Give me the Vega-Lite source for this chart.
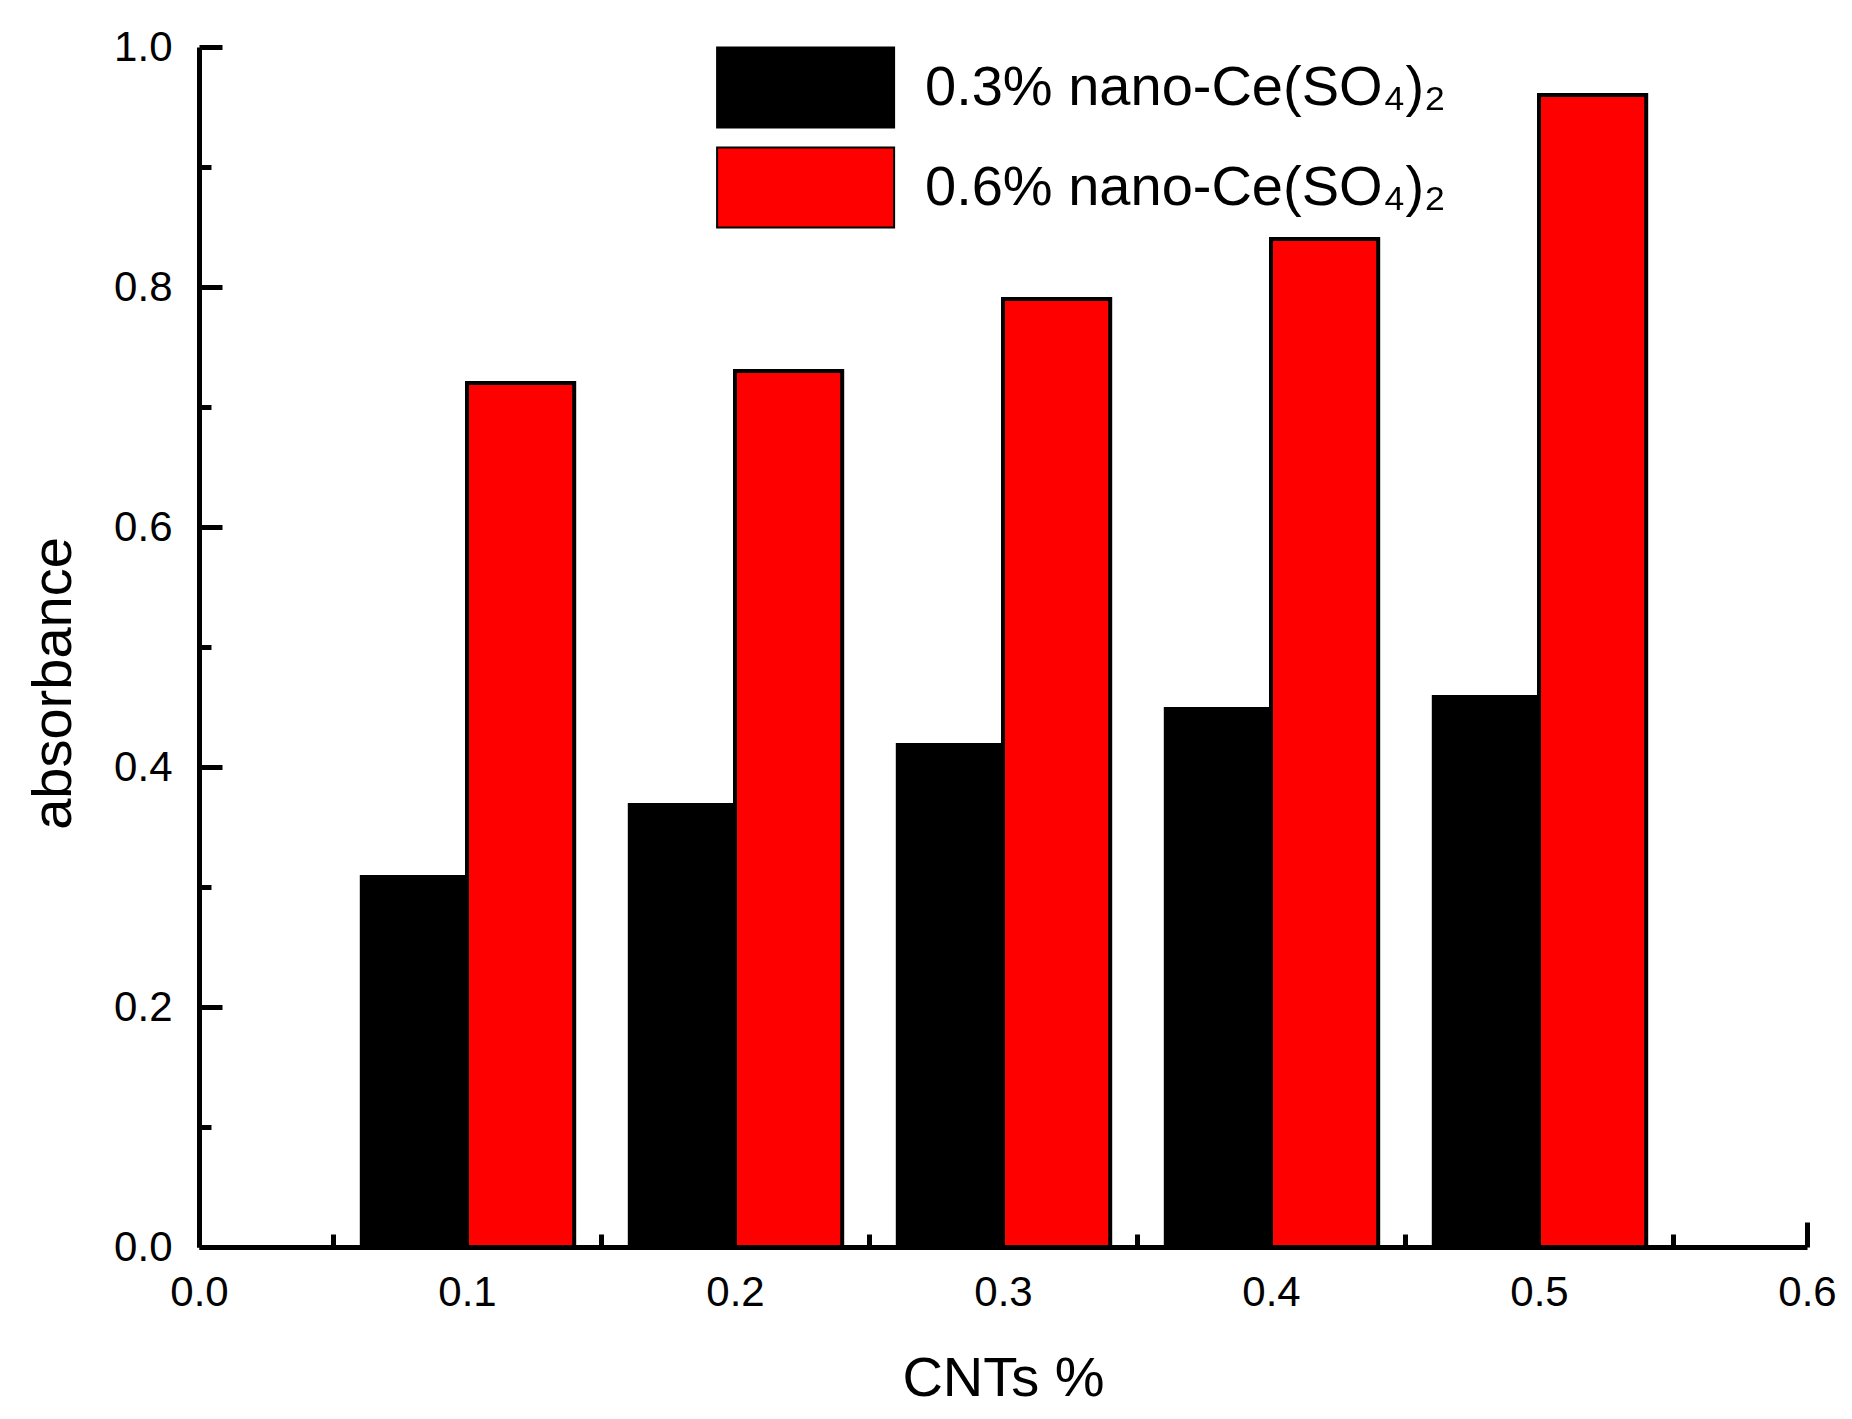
{
  "$schema": "https://vega.github.io/schema/vega-lite/v6.json",
  "width": 1608,
  "height": 1200,
  "autosize": {"type": "none"},
  "padding": {"left": 199, "top": 47, "right": 45, "bottom": 172},
  "background": "white",
  "data": {
    "values": [
      {"cnt": 0.1, "series": "0.3% nano-Ce(SO₄)₂", "absorbance": 0.31},
      {"cnt": 0.2, "series": "0.3% nano-Ce(SO₄)₂", "absorbance": 0.37},
      {"cnt": 0.3, "series": "0.3% nano-Ce(SO₄)₂", "absorbance": 0.42},
      {"cnt": 0.4, "series": "0.3% nano-Ce(SO₄)₂", "absorbance": 0.45},
      {"cnt": 0.5, "series": "0.3% nano-Ce(SO₄)₂", "absorbance": 0.46},
      {"cnt": 0.1, "series": "0.6% nano-Ce(SO₄)₂", "absorbance": 0.72},
      {"cnt": 0.2, "series": "0.6% nano-Ce(SO₄)₂", "absorbance": 0.73},
      {"cnt": 0.3, "series": "0.6% nano-Ce(SO₄)₂", "absorbance": 0.79},
      {"cnt": 0.4, "series": "0.6% nano-Ce(SO₄)₂", "absorbance": 0.84},
      {"cnt": 0.5, "series": "0.6% nano-Ce(SO₄)₂", "absorbance": 0.96}
    ]
  },
  "encoding": {
    "x": {
      "field": "cnt",
      "type": "quantitative",
      "title": "CNTs %",
      "scale": {"domain": [0, 0.6], "nice": false, "zero": true},
      "axis": {
        "values": [0, 0.05, 0.1, 0.15, 0.2, 0.25, 0.3, 0.35, 0.4, 0.45, 0.5, 0.55, 0.6],
        "labelExpr": "round(datum.value * 100) % 10 == 0 ? format(datum.value, '.1f') : ''",
        "tickSize": {"condition": {"test": "round(datum.value * 100) % 10 == 0", "value": -25}, "value": -13},
        "labelPadding": 50,
        "titleY": 148,
        "titleBaseline": "alphabetic"
      }
    },
    "y": {
      "field": "absorbance",
      "type": "quantitative",
      "title": "absorbance",
      "scale": {"domain": [0, 1], "nice": false},
      "axis": {
        "values": [0, 0.1, 0.2, 0.3, 0.4, 0.5, 0.6, 0.7, 0.8, 0.9, 1.0],
        "labelExpr": "round(datum.value * 10) % 2 == 0 ? format(datum.value, '.1f') : ''",
        "tickSize": {"condition": {"test": "round(datum.value * 10) % 2 == 0", "value": -23}, "value": -12},
        "labelPadding": 50,
        "titleX": -129,
        "titleY": 636,
        "titleBaseline": "alphabetic"
      }
    },
    "y2": {"datum": 0},
    "color": {
      "field": "series",
      "type": "nominal",
      "scale": {
        "domain": ["0.3% nano-Ce(SO₄)₂", "0.6% nano-Ce(SO₄)₂"],
        "range": ["#000000", "#ff0000"]
      },
      "legend": {
        "title": null,
        "orient": "none",
        "legendX": 517,
        "legendY": 4,
        "symbolType": "M-1,-1.13H4V1.13H-1Z",
        "symbolSize": 5013,
        "symbolStrokeColor": "#000000",
        "symbolStrokeWidth": 2,
        "symbolOpacity": 1,
        "labelFont": "Liberation Sans",
        "labelFontSize": 56,
        "labelColor": "#000000",
        "labelOffset": 136,
        "labelLimit": 0,
        "rowPadding": 11,
        "padding": 0
      }
    }
  },
  "layer": [
    {
      "transform": [{"filter": "datum.series == '0.3% nano-Ce(SO₄)₂'"}],
      "mark": {"type": "rect", "xOffset": -107.2, "x2Offset": 0, "opacity": 1},
      "encoding": {"x2": {"field": "cnt"}}
    },
    {
      "transform": [{"filter": "datum.series == '0.6% nano-Ce(SO₄)₂'"}],
      "mark": {"type": "rect", "xOffset": 0, "x2Offset": 107.2, "stroke": "#000000", "strokeWidth": 4, "opacity": 1},
      "encoding": {"x2": {"field": "cnt"}}
    }
  ],
  "config": {
    "view": {"stroke": null},
    "font": "Liberation Sans",
    "axis": {
      "grid": false,
      "domainColor": "#000000",
      "domainWidth": 5,
      "tickColor": "#000000",
      "tickWidth": 5,
      "labelColor": "#000000",
      "labelFont": "Liberation Sans",
      "labelFontSize": 42,
      "labelFlush": false,
      "labelOverlap": false,
      "labelBound": false,
      "titleColor": "#000000",
      "titleFont": "Liberation Sans",
      "titleFontSize": 56,
      "titleFontWeight": "normal"
    }
  }
}
